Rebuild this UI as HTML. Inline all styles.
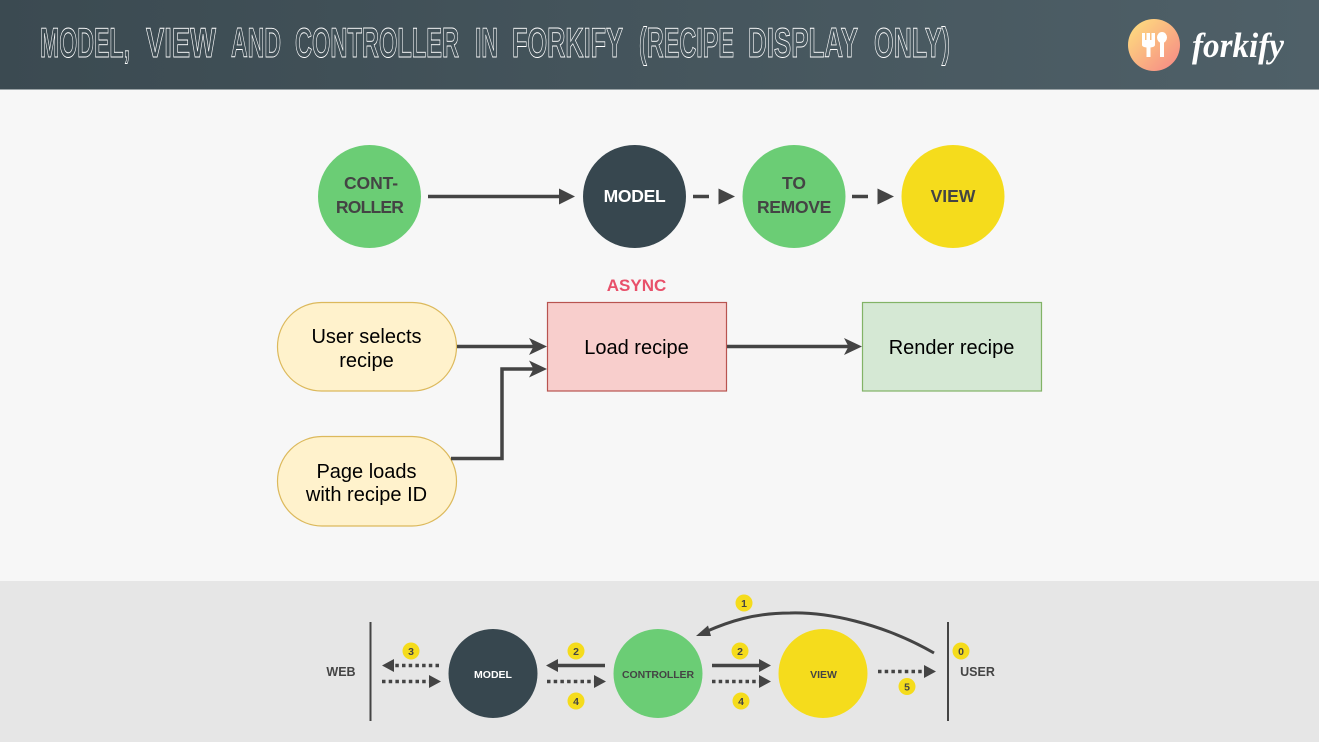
<!DOCTYPE html>
<html>
<head>
<meta charset="utf-8">
<style>
html,body{margin:0;padding:0;width:1319px;height:742px;overflow:hidden;background:#f7f7f7}
svg{display:block}
text{font-family:"Liberation Sans",sans-serif}
.t{fill:none;stroke:#fff;stroke-width:.9;font-size:41.5px;font-weight:bold}
.b{font-weight:bold;font-size:17.5px;text-anchor:middle;fill:#444}
.n{font-size:20px;text-anchor:middle;fill:#000}
.s{font-weight:bold;font-size:10.5px;text-anchor:middle;fill:#444}
.l{font-weight:bold;font-size:12.5px;text-anchor:middle;fill:#444}
.d{font-weight:bold;font-size:10.5px;text-anchor:middle;fill:#444}
.ln{fill:none;stroke:#444;stroke-width:3.5}
.dot{fill:none;stroke:#444;stroke-width:3.5;stroke-dasharray:3.5 3.2}
</style>
</head>
<body>
<svg width="1319" height="742" viewBox="0 0 1319 742" xmlns="http://www.w3.org/2000/svg">
<defs>
<linearGradient id="hg" x1="0" y1="0" x2="1" y2="0"><stop offset="0" stop-color="#3b4a51"/><stop offset="1" stop-color="#4f6068"/></linearGradient>
<linearGradient id="lg" x1="0" y1="0" x2="1" y2="1"><stop offset="0.1" stop-color="#fdd97f"/><stop offset="0.9" stop-color="#f78f85"/></linearGradient>
</defs>
<rect width="1319" height="742" fill="#f7f7f7"/>
<rect width="1319" height="89" fill="url(#hg)"/>
<rect y="89" width="1319" height="1" fill="#9aa3a6"/>
<rect y="581" width="1319" height="161" fill="#e6e6e6"/>

<g class="t">
<text x="40" y="57" textLength="90" lengthAdjust="spacingAndGlyphs">MODEL,</text>
<text x="146" y="57" textLength="70" lengthAdjust="spacingAndGlyphs">VIEW</text>
<text x="231" y="57" textLength="50" lengthAdjust="spacingAndGlyphs">AND</text>
<text x="295" y="57" textLength="164" lengthAdjust="spacingAndGlyphs">CONTROLLER</text>
<text x="475" y="57" textLength="23" lengthAdjust="spacingAndGlyphs">IN</text>
<text x="512" y="57" textLength="111" lengthAdjust="spacingAndGlyphs">FORKIFY</text>
<text x="639" y="57" textLength="95" lengthAdjust="spacingAndGlyphs">(RECIPE</text>
<text x="748" y="57" textLength="110" lengthAdjust="spacingAndGlyphs">DISPLAY</text>
<text x="874" y="57" textLength="76" lengthAdjust="spacingAndGlyphs">ONLY)</text>
</g>

<circle cx="1154" cy="45" r="26" fill="url(#lg)"/>
<path d="M1142 33h3v7h1.500v-7h3.500v7h1.500v-7h3.500v12q0 2-4.500 2.500v9.500h-4v-9.500q-4.500-.5-4.500-2.500z" fill="#fff"/>
<ellipse cx="1162" cy="37.500" rx="5" ry="5.500" fill="#fff"/>
<rect x="1160" y="40" width="4" height="17" fill="#fff"/>
<text x="1192" y="57" textLength="92" lengthAdjust="spacingAndGlyphs" style="font-family:'Liberation Serif',serif;font-style:italic;font-weight:bold;font-size:35px;fill:#fff">forkify</text>

<!-- top row -->
<circle cx="369.500" cy="196.500" r="51.500" fill="#6bcd75"/>
<circle cx="634.500" cy="196.500" r="51.500" fill="#37474f"/>
<circle cx="794" cy="196.500" r="51.500" fill="#6bcd75"/>
<circle cx="953" cy="196.500" r="51.500" fill="#f5dc1c"/>
<text class="b" x="371" y="189" style="letter-spacing:-.1px">CONT-</text>
<text class="b" x="369.500" y="213" style="letter-spacing:-.8px">ROLLER</text>
<text class="b" x="634.500" y="202" style="letter-spacing:-.3px;fill:#fff">MODEL</text>
<text class="b" x="794" y="189">TO</text>
<text class="b" x="794" y="213" style="letter-spacing:-.3px">REMOVE</text>
<text class="b" x="953" y="202">VIEW</text>
<path class="ln" d="M428 196.500H562"/>
<path d="M559 188.500L575 196.500L559 204.500z" fill="#444"/>
<path class="ln" d="M693 196.500H709"/>
<path d="M718.500 188.500L735 196.500L718.500 204.500z" fill="#444"/>
<path class="ln" d="M852 196.500H868"/>
<path d="M877.500 188.500L894 196.500L877.500 204.500z" fill="#444"/>

<!-- middle flow -->
<text x="636.500" y="291" style="font-weight:bold;font-size:17px;text-anchor:middle;fill:#e8506a">ASYNC</text>
<rect x="277.500" y="302.500" width="179" height="88.500" rx="44" fill="#fff2cc" stroke="#dcb95c" stroke-width="1.200"/>
<rect x="277.500" y="436.500" width="179" height="89.500" rx="44.500" fill="#fff2cc" stroke="#dcb95c" stroke-width="1.200"/>
<rect x="547.500" y="302.500" width="179" height="88.500" fill="#f8cecc" stroke="#b85450" stroke-width="1.200"/>
<rect x="862.500" y="302.500" width="179" height="88.500" fill="#d5e8d4" stroke="#82b366" stroke-width="1.200"/>
<text class="n" x="366.500" y="343">User selects</text>
<text class="n" x="366.500" y="367">recipe</text>
<text class="n" x="366.500" y="478">Page loads</text>
<text class="n" x="366.500" y="501">with recipe ID</text>
<text class="n" x="636.500" y="354">Load recipe</text>
<text class="n" x="951.500" y="354">Render recipe</text>
<path class="ln" d="M457 346.500H535"/>
<path d="M529 338L547 346.500L529 355L533.500 346.500z" fill="#444"/>
<path class="ln" d="M451 458.500H502V369H535"/>
<path d="M529 360.500L547 369L529 377.500L533.500 369z" fill="#444"/>
<path class="ln" d="M727 346.500H850"/>
<path d="M844 338L862 346.500L844 355L848.500 346.500z" fill="#444"/>

<!-- bottom -->
<rect x="369.500" y="622" width="2" height="99" fill="#444"/>
<rect x="947" y="622" width="2" height="99" fill="#444"/>
<text class="l" x="341" y="676">WEB</text>
<text class="l" x="977.500" y="676">USER</text>
<circle cx="493" cy="673.500" r="44.500" fill="#37474f"/>
<circle cx="658" cy="673.500" r="44.500" fill="#6bcd75"/>
<circle cx="823" cy="673.500" r="44.500" fill="#f5dc1c"/>
<text class="s" x="493" y="678" style="fill:#fff">MODEL</text>
<text class="s" x="658" y="678" style="letter-spacing:-.1px">CONTROLLER</text>
<text class="s" x="823.500" y="678">VIEW</text>

<path class="dot" d="M439 665.500H394"/>
<path d="M394 659L382 665.500L394 672z" fill="#444"/>
<path class="dot" d="M382 681.500H430"/>
<path d="M429 675L441 681.500L429 688z" fill="#444"/>
<path class="ln" d="M605 665.500H556"/>
<path d="M558 659L546 665.500L558 672z" fill="#444"/>
<path class="dot" d="M547 681.500H595"/>
<path d="M594 675L606 681.500L594 688z" fill="#444"/>
<path class="ln" d="M712 665.500H762"/>
<path d="M759 659L771 665.500L759 672z" fill="#444"/>
<path class="dot" d="M712 681.500H760"/>
<path d="M759 675L771 681.500L759 688z" fill="#444"/>
<path class="dot" d="M878 671.500H925"/>
<path d="M924 665L936 671.500L924 678z" fill="#444"/>
<path class="ln" style="stroke-width:3" d="M934 653C880 622 825 612 790 613C755 613 730 621 705 632"/>
<path d="M696 636L708 625.500L711 636z" fill="#444"/>

<g fill="#f5dc1c">
<circle cx="411" cy="651" r="8.500"/><circle cx="576" cy="651" r="8.500"/><circle cx="576" cy="701" r="8.500"/>
<circle cx="740" cy="651" r="8.500"/><circle cx="741" cy="701" r="8.500"/><circle cx="744" cy="603" r="8.500"/>
<circle cx="961" cy="651" r="8.500"/><circle cx="907" cy="686.500" r="8.500"/>
</g>
<text class="d" x="411" y="655">3</text>
<text class="d" x="576" y="655">2</text>
<text class="d" x="576" y="705">4</text>
<text class="d" x="740" y="655">2</text>
<text class="d" x="741" y="705">4</text>
<text class="d" x="744" y="607">1</text>
<text class="d" x="961" y="655">0</text>
<text class="d" x="907" y="690.500">5</text>
</svg>
</body>
</html>
